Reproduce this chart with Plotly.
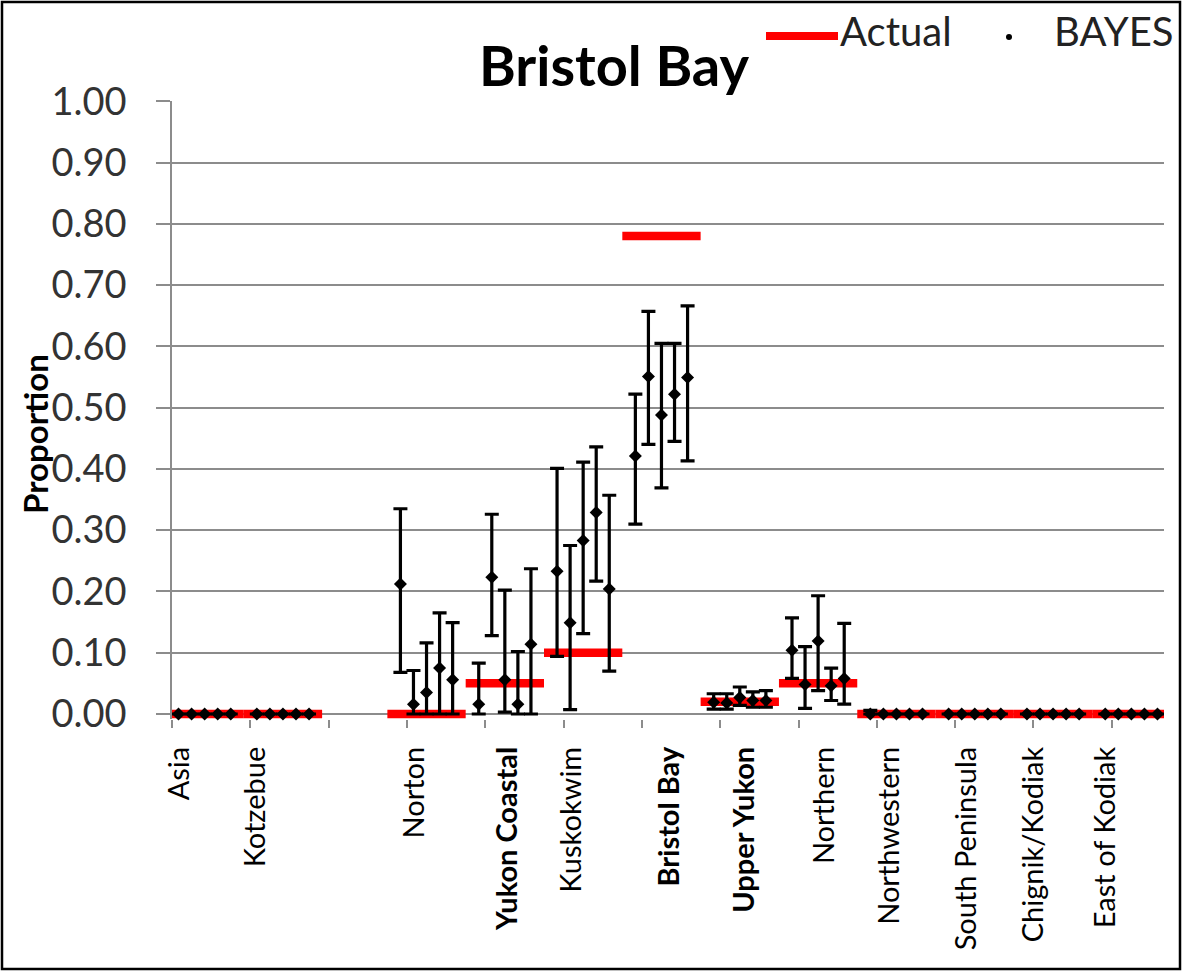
import plotly.graph_objects as go

# ---- data -------------------------------------------------------------
regions = ["Asia", "Kotzebue", "Norton", "Yukon Coastal", "Kuskokwim", "Bristol Bay",
           "Upper Yukon", "Northern", "Northwestern", "South Peninsula",
           "Chignik/Kodiak", "East of Kodiak"]
bold_regions = ["Yukon Coastal", "Bristol Bay", "Upper Yukon"]

# true proportion of each reporting group in the Bristol Bay test mixture
actual = [0.00, 0.00, 0.00, 0.05, 0.10, 0.78, 0.02, 0.05, 0.00, 0.00, 0.00, 0.00]

# BAYES estimates for the five replicate mixtures of each reporting group
bayes_est = [
    [0.000, 0.000, 0.000, 0.000, 0.000],
    [0.000, 0.000, 0.000, 0.000, 0.000],
    [0.212, 0.016, 0.035, 0.075, 0.056],
    [0.016, 0.223, 0.056, 0.016, 0.114],
    [0.233, 0.149, 0.283, 0.329, 0.204],
    [0.421, 0.551, 0.488, 0.522, 0.549],
    [0.019, 0.018, 0.027, 0.022, 0.022],
    [0.104, 0.048, 0.119, 0.046, 0.058],
    [0.000, 0.000, 0.000, 0.000, 0.000],
    [0.000, 0.000, 0.000, 0.000, 0.000],
    [0.000, 0.000, 0.000, 0.000, 0.000],
    [0.000, 0.000, 0.000, 0.000, 0.000],
]
# lower / upper bounds of the credibility intervals
bayes_lo = [
    [0.000, 0.000, 0.000, 0.000, 0.000],
    [0.000, 0.000, 0.000, 0.000, 0.000],
    [0.068, 0.000, 0.000, 0.000, 0.000],
    [0.000, 0.128, 0.003, 0.000, 0.000],
    [0.094, 0.007, 0.131, 0.217, 0.070],
    [0.310, 0.440, 0.369, 0.445, 0.413],
    [0.008, 0.008, 0.014, 0.011, 0.011],
    [0.058, 0.009, 0.038, 0.022, 0.016],
    [0.000, 0.000, 0.000, 0.000, 0.000],
    [0.000, 0.000, 0.000, 0.000, 0.000],
    [0.000, 0.000, 0.000, 0.000, 0.000],
    [0.000, 0.000, 0.000, 0.000, 0.000],
]
bayes_hi = [
    [0.000, 0.000, 0.000, 0.000, 0.000],
    [0.000, 0.000, 0.000, 0.000, 0.000],
    [0.335, 0.071, 0.116, 0.165, 0.149],
    [0.083, 0.326, 0.202, 0.102, 0.237],
    [0.401, 0.275, 0.411, 0.436, 0.357],
    [0.522, 0.657, 0.605, 0.605, 0.666],
    [0.033, 0.033, 0.044, 0.036, 0.038],
    [0.157, 0.110, 0.193, 0.075, 0.148],
    [0.006, 0.000, 0.000, 0.000, 0.000],
    [0.000, 0.000, 0.000, 0.000, 0.000],
    [0.000, 0.000, 0.000, 0.000, 0.000],
    [0.000, 0.000, 0.000, 0.000, 0.000],
]
y_tick_values = [0.0, 0.1, 0.2, 0.3, 0.4, 0.5, 0.6, 0.7, 0.8, 0.9, 1.0]

# ---- layout of the slot axis -------------------------------------------
# every group takes six slots (five replicates + a gap); first slot of each group:
block_start = [0, 6, 17, 23, 29, 35, 41, 47, 53, 59, 65, 71]
label_pos = [0.1, 5.9, 18.1, 25.2, 30.1, 37.6, 43.4, 49.5, 54.5, 60.4, 65.5, 71.0]
group_ticks = [-0.5 + 6 * k for k in range(13)]

FONT = "Lato"
W, H = 1183, 972
L, R, T, B = 172, 19, 101, 253
PW, PH = W - L - R, H - T - B


def px_x(px):
    return (px - L) / PW


def px_y(py):
    return (T + PH - py) / PH


# ---- traces -----------------------------------------------------------
ax, ay = [], []
for s, a in zip(block_start, actual):
    ax += [s - 1, s + 5, None]
    ay += [a, a, None]

bx, by, eplus, eminus = [], [], [], []
for s, est, lo, hi in zip(block_start, bayes_est, bayes_lo, bayes_hi):
    for j in range(5):
        bx.append(s + j)
        by.append(est[j])
        if hi[j] > lo[j]:
            eplus.append(hi[j] - est[j])
            eminus.append(est[j] - lo[j])
        else:
            eplus.append(None)
            eminus.append(None)

fig = go.Figure()
fig.add_trace(go.Scatter(
    x=ax, y=ay, mode="lines", name="Actual",
    line=dict(color="#ff0000", width=8.5), showlegend=False,
))
fig.add_trace(go.Scatter(
    x=bx, y=by, mode="markers", name="BAYES", cliponaxis=False,
    marker=dict(symbol="diamond", size=10, color="black"),
    error_y=dict(type="data", symmetric=False, array=eplus, arrayminus=eminus,
                 color="black", thickness=3.2, width=7),
    showlegend=False,
))

# ---- legend, title and frame ------------------------------------------
annotations = [
    dict(text="Actual", x=px_x(838), y=px_y(31), xref="paper", yref="paper",
         xanchor="left", yanchor="middle", showarrow=False,
         font=dict(family=FONT, size=40, color="#222")),
    dict(text="BAYES", x=px_x(1052), y=px_y(31), xref="paper", yref="paper",
         xanchor="left", yanchor="middle", showarrow=False,
         font=dict(family=FONT, size=40, color="#222")),
    dict(text="<b>Proportion</b>", x=px_x(35), y=px_y(434), xref="paper", yref="paper",
         xanchor="center", yanchor="middle", showarrow=False, textangle=-90,
         font=dict(family=FONT, size=33, color="black")),
]
shapes = [
    dict(type="line", xref="paper", yref="paper", x0=px_x(766), x1=px_x(838),
         y0=px_y(36), y1=px_y(36), line=dict(color="#ff0000", width=8)),
    dict(type="circle", xref="paper", yref="paper", x0=px_x(1006), x1=px_x(1012),
         y0=px_y(40), y1=px_y(34), fillcolor="black", line=dict(width=0)),
    dict(type="rect", xref="paper", yref="paper", x0=px_x(2), x1=px_x(1180),
         y0=px_y(969), y1=px_y(2), line=dict(color="black", width=2.5)),
]

tick_text = [f"<b>{r}</b>" if r in bold_regions else r for r in regions]

fig.update_layout(
    width=W, height=H,
    margin=dict(l=L, r=R, t=T, b=B),
    paper_bgcolor="white", plot_bgcolor="white",
    font=dict(family=FONT, color="black"),
    title=dict(text="<b>Bristol Bay</b>", x=614 / W, xanchor="center",
               y=1 - 66 / H, yanchor="middle", xref="container", yref="container",
               font=dict(family=FONT, size=56, color="black")),
    annotations=annotations,
    shapes=shapes,
    xaxis=dict(
        range=[-0.5, 75.5], showgrid=False, zeroline=False, showline=False,
        tickmode="array", tickvals=label_pos, ticktext=tick_text,
        ticks="", tickangle=-90, ticklabelstandoff=21,
        tickfont=dict(family=FONT, size=29, color="black"),
        minor=dict(tickmode="array", tickvals=group_ticks, ticks="outside",
                   ticklen=8, tickcolor="#8c8c8c", tickwidth=1.5, showgrid=False),
    ),
    yaxis=dict(
        range=[-0.0082, 1.0005], showgrid=True, gridcolor="#8c8c8c", gridwidth=1.5,
        zeroline=False, showline=True, linecolor="#8c8c8c", linewidth=1.5,
        tickmode="array", tickvals=y_tick_values,
        ticktext=[f"{v:.2f}" for v in y_tick_values],
        ticks="outside", ticklen=14, tickcolor="#8c8c8c", tickwidth=1.5,
        ticklabelstandoff=22,
        tickfont=dict(family=FONT, size=38, color="#333"),
    ),
)

fig.write_html("out.html")
